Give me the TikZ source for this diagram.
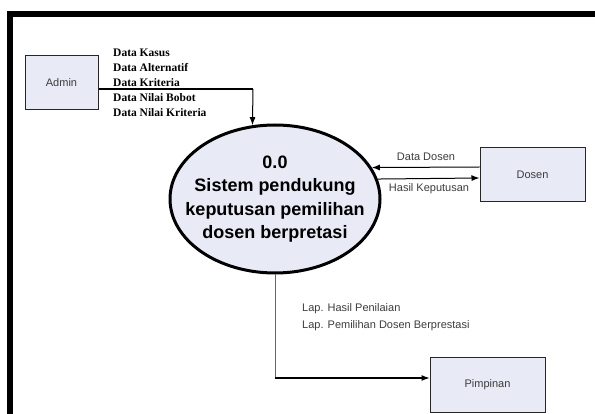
\documentclass[tikz,border=0pt]{standalone}
\usepackage{fontspec}
\setmainfont{Liberation Sans}
\newfontfamily\serifb{Liberation Serif}
\usetikzlibrary{shapes.geometric,arrows.meta,calc}
\definecolor{boxfill}{RGB}{232,234,246}
\definecolor{txtgray}{RGB}{60,60,60}
\begin{document}
\begin{tikzpicture}[x=1pt,y=-1pt,
  entity/.style={draw=black!85,line width=1pt,fill=boxfill,minimum height=54pt,inner sep=0pt,
    font=\fontsize{11}{13}\selectfont,text=txtgray},
  process/.style={ellipse,draw=black,line width=3pt,fill=boxfill,minimum width=210pt,minimum height=148pt,
    inner sep=0pt},
  proctext/.style={inner sep=0pt,align=center,font=\bfseries\fontsize{18}{23.4}\selectfont},
  flow/.style={line width=1pt,-{Latex[length=8pt,width=6pt]}},
  lbl/.style={font=\fontsize{11}{13}\selectfont,text=txtgray,inner sep=0pt},
  serlbl/.style={font=\serifb\bfseries\fontsize{11.5}{15}\selectfont,inner sep=0pt,align=left},
  frameline/.style={line width=6pt,black}]
\useasboundingbox (0,0) rectangle (595,414);
% frame
\draw[frameline] (7,14) -- (595,14);
\draw[frameline] (10,11) -- (10,414);
% nodes
\node[entity,minimum width=73pt] (admin) at (61.5,83) {Admin};
\node[entity,minimum width=105pt] (dosen) at (532.5,175) {Dosen};
\node[entity,minimum width=115pt] (pim) at (487.5,385) {Pimpinan};
\node[process] (proc) at (275,199) {};
\node[proctext] (proctxt) at (proc.center) {0.0\\Sistem pendukung\\keputusan pemilihan\\dosen berpretasi};
% admin flow
\coordinate (bend1) at (253,89);
\draw[line width=1.3pt] ($(admin.east)+(0,6)$) -- (bend1);
\draw[flow] (bend1) -- (proc.107);
\node[serlbl,anchor=west] (datalbl) at (113,83) {Data Kasus\\Data Alternatif\\Data Kriteria\\Data Nilai Bobot\\Data Nilai Kriteria};
% dosen flows
\draw[flow] ($(dosen.west)+(0,-8)$) -- (proc.18.7);
\draw[flow] (proc.11.8) -- ($(dosen.west)+(0,3)$);
\node[lbl] (ddlbl) at (426,157) {Data Dosen};
\node[lbl] (hklbl) at (429,189) {Hasil Keputusan};
% pimpinan flow
\coordinate (bend2) at (proc.south |- 0,378);
\draw[line width=1pt,black!60] (proc.south) -- (bend2);
\draw[flow] (bend2) -- ($(pim.west)+(0,-7)$);
\node[lbl,anchor=west,align=left,font=\fontsize{11}{17}\selectfont] (laplbl) at (302,317.5) {Lap. Hasil Penilaian\\Lap. Pemilihan Dosen Berprestasi};
\end{tikzpicture}
\end{document}
